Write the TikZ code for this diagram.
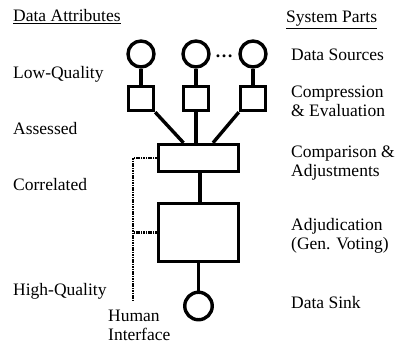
\documentclass[tikz,border=0pt]{standalone}
\usepackage{fontspec}
\setmainfont{Liberation Serif}
\usetikzlibrary{positioning}
\tikzset{
  src/.style={draw, circle, line width=3.4pt, minimum size=26pt, inner sep=0pt},
  cmpbox/.style={draw, line width=3.4pt, minimum width=25pt, minimum height=24pt, inner sep=0pt},
  stage/.style={draw, line width=3.4pt, minimum width=80pt, inner sep=0pt},
  wire/.style={line width=3.4pt},
  hwire/.style={line width=2.8pt, dash pattern=on 1.6pt off 0.8pt},
  lbl/.style={anchor=base west, inner sep=0pt, align=left, font=\fontsize{17.5}{19}\selectfont},
}
\begin{document}
\begin{tikzpicture}[x=1pt, y=-1pt]
  \useasboundingbox (0,0) rectangle (399,345);
  % sources and compression
  \foreach \i/\x in {1/141,2/196,3/253} {
    \node[src] (src\i) at (\x,54) {};
    \node[cmpbox] (cmp\i) at (\x,98.5) {};
    \draw[wire] (src\i) -- (cmp\i);
  }
  \node[anchor=base, inner sep=0pt, font=\fontsize{18}{18}\selectfont\bfseries] (dots) at (224,58) {\dots};
  % comparison, adjudication, sink
  \node[stage, minimum height=27pt] (cmpadj) at (198.5,158) {};
  \node[stage, minimum height=58pt] (adj) at (198.5,232.5) {};
  \node[src, minimum size=27.5pt] (sink) at (198.5,306) {};
  \draw[wire] (cmp1.south east) -- ([xshift=-15pt]cmpadj.north);
  \draw[wire] (cmp2.south) -- (cmp2.south |- cmpadj.north);
  \draw[wire] (cmp3.south west) -- ([xshift=14.5pt]cmpadj.north);
  \draw[wire] ([xshift=1.5pt]cmpadj.south) -- ([xshift=1.5pt]adj.north);
  \draw[wire] (adj) -- (sink);
  % human interface
  \coordinate (hbot) at (133,302);
  \draw[hwire] (cmpadj.west) -| (hbot);
  \draw[hwire] (adj.west) -- (adj.west -| hbot);
  % left column
  \node[lbl] (attr) at (13,22) {\underline{Data Attributes}};
  \node[lbl] (lowq) at (13,78) {Low-Quality};
  \node[lbl] (assessed) at (13,134) {Assessed};
  \node[lbl] (correlated) at (13,190) {Correlated};
  \node[lbl] (highq) at (13,295) {High-Quality};
  \node[lbl] (human) at (108,340) {Human\\Interface};
  % right column
  \node[lbl] (parts) at (286,23) {\underline{System Parts}};
  \node[lbl] (sources) at (291,60) {Data Sources};
  \node[lbl] (compress) at (291,116) {Compression\\\& Evaluation};
  \node[lbl] (compare) at (291,176) {Comparison \&\\Adjustments};
  \node[lbl] (adjud) at (291,249) {Adjudication\\(Gen. Voting)};
  \node[lbl] (sinklbl) at (291,308) {Data Sink};
\end{tikzpicture}
\end{document}
